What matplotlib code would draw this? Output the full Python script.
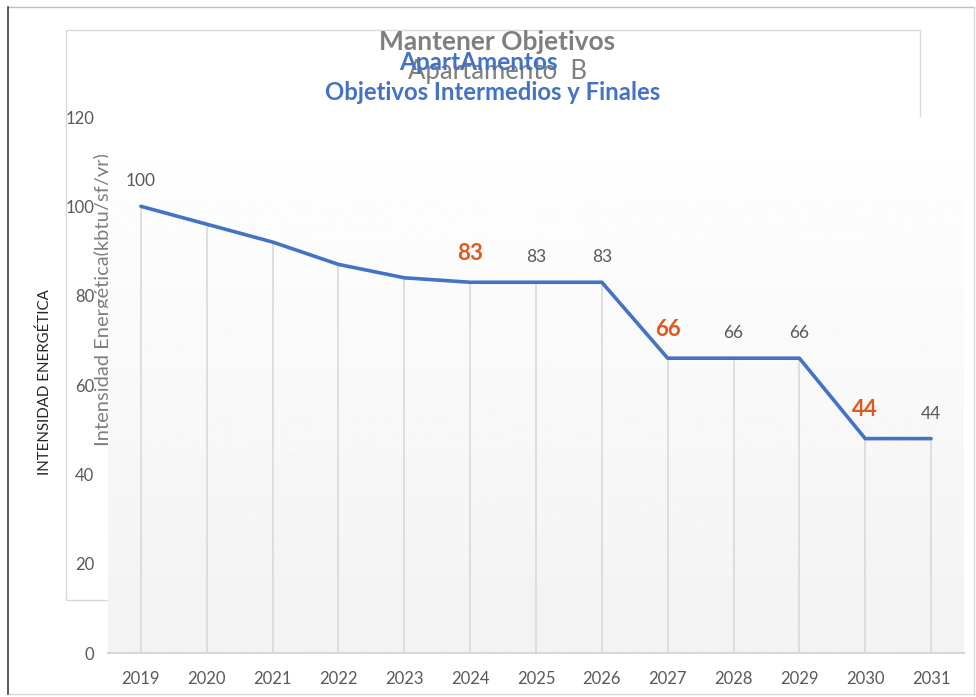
import numpy as np
import matplotlib
matplotlib.use("Agg")
import matplotlib.pyplot as plt
from matplotlib.patches import Rectangle
from matplotlib.lines import Line2D

plt.rcParams['font.family'] = ['Lato', 'DejaVu Sans']

years = ['2019', '2020', '2021', '2022', '2023', '2024', '2025',
         '2026', '2027', '2028', '2029', '2030', '2031']
intensity = [100, 96, 92, 87, 84, 83, 83, 83, 66, 66, 66, 48, 48]
point_labels = ['100', '', '', '', '', '83', '83', '83', '66', '66', '66', '44', '44']
highlight = [False, False, False, False, False, True, False, False, True, False, False, True, False]
yticks = [0, 20, 40, 60, 80, 100, 120]

W, H = 976, 697
BLUE = '#4472C4'
GRAY = '#7F7F7F'
ORANGE = '#E2571E'


def fx(px):
    return px / W


def fy(py):
    return 1 - py / H


fig = plt.figure(figsize=(W / 100, H / 100), dpi=100)

# outer frame
fig.add_artist(Line2D([fx(8), fx(974)], [fy(7), fy(7)], color='#bfbfbf', lw=1))
fig.add_artist(Line2D([fx(8), fx(974)], [fy(694), fy(694)], color='#d9d9d9', lw=1))
fig.add_artist(Line2D([fx(974), fx(974)], [fy(7), fy(694)], color='#d9d9d9', lw=1))
fig.add_artist(Line2D([fx(8), fx(8)], [fy(7), fy(694)], color='#404040', lw=1.2))

# inner chart box left over from the other sheet
fig.add_artist(Rectangle((fx(66), fy(600)), fx(920) - fx(66), fy(30) - fy(600),
                         facecolor='white', edgecolor='#d9d9d9', lw=1, zorder=0))

# titles (they overlap in the original too)
fig.text(fx(497), fy(42), 'Mantener Objetivos', ha='center', va='center',
         fontsize=19, fontweight='bold', color=GRAY)
fig.text(fx(497), fy(72), 'Apartamento  B', ha='center', va='center',
         fontsize=18.5, color=GRAY)
fig.text(fx(478), fy(62), 'ApartAmentos', ha='center', va='center',
         fontsize=17.5, fontweight='bold', color=BLUE)
fig.text(fx(493), fy(93), 'Objetivos Intermedios y Finales', ha='center', va='center',
         fontsize=17.2, fontweight='bold', color=BLUE)

# axis titles
fig.text(fx(45), fy(382), 'INTENSIDAD ENERGÉTICA', rotation=90, ha='center', va='center',
         fontsize=10.8, color='#262626')
fig.text(fx(103), fy(300), 'Intensidad Energética(kbtu/sf/yr)', rotation=90,
         ha='center', va='center', fontsize=14.5, color=GRAY, zorder=0)

ax = fig.add_axes([fx(108), fy(653), fx(964) - fx(108), fy(117) - fy(653)])
ax.set_zorder(1)
x = np.arange(len(years))
ax.set_xlim(-0.5, len(years) - 0.5)
ax.set_ylim(0, 120)

# gradient background
grad = np.linspace(1.0, 0.95, 256).reshape(-1, 1)
ax.imshow(grad, cmap='gray', vmin=0, vmax=1, aspect='auto',
          extent=[-0.5, len(years) - 0.5, 0, 120], zorder=0)

ax.vlines(x, 0, intensity, color='#d9d9d9', lw=1.2, zorder=1)
ax.plot(x, intensity, color=BLUE, lw=2.6, solid_capstyle='round', zorder=3)

for xi, yi, lab, hl in zip(x, intensity, point_labels, highlight):
    if not lab:
        continue
    if hl:
        ax.annotate(lab, (xi, yi), xytext=(0, 21), textcoords='offset points',
                    ha='center', va='center', fontsize=16, fontweight='bold', color=ORANGE)
    else:
        ax.annotate(lab, (xi, yi), xytext=(0, 18), textcoords='offset points',
                    ha='center', va='center', fontsize=12.5, color='#595959')

ax.set_xticks(x)
ax.set_xticklabels(years)
ax.set_yticks(yticks)
ax.tick_params(axis='both', length=0, labelsize=12, labelcolor='#595959')
ax.tick_params(axis='x', pad=13)
ax.tick_params(axis='y', pad=10)
for side in ['top', 'right', 'left']:
    ax.spines[side].set_visible(False)
ax.spines['bottom'].set_color('#d9d9d9')
ax.spines['bottom'].set_linewidth(1.5)

fig.savefig('out.png', dpi=100)
